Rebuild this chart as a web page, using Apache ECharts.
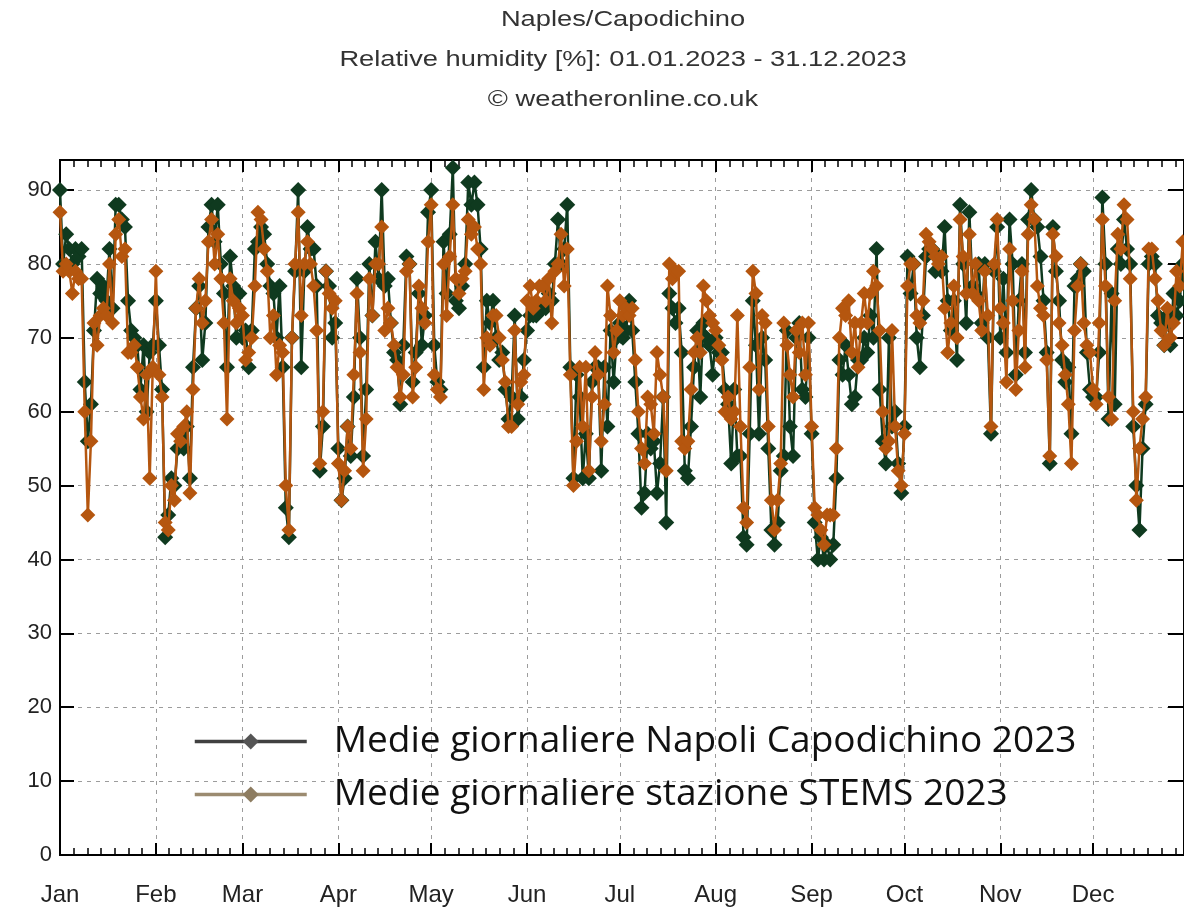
<!DOCTYPE html>
<html>
<head>
<meta charset="utf-8">
<title>Naples/Capodichino – Relative humidity 2023</title>
<script src="https://cdn.jsdelivr.net/npm/echarts@6/dist/echarts.min.js"></script>
<style>
  html, body { margin: 0; padding: 0; background: #ffffff; }
  #chart { width: 1184px; height: 911px; }
</style>
</head>
<body>
<div id="chart"></div>
<script>
// Month axis
const monthNames = ['Jan', 'Feb', 'Mar', 'Apr', 'May', 'Jun', 'Jul', 'Aug', 'Sep', 'Oct', 'Nov', 'Dec'];
const monthLengths = [31, 28, 31, 30, 31, 30, 31, 31, 30, 31, 30, 31];
const yTicks = [0, 10, 20, 30, 40, 50, 60, 70, 80, 90];

// Daily mean relative humidity [%], Napoli Capodichino 2023 (one value per day, Jan 1 first)
const napoli = [
  // Jan
  90, 80, 84, 82, 80, 82, 81, 82, 64, 56, 61, 71, 78, 76, 77, 75, 82, 74, 88, 88, 86, 85, 75, 71, 70, 69, 63, 69, 60, 68, 69,
  // Feb
  75, 69, 63, 43, 46, 51, 50, 55, 57, 55, 58, 51, 66, 74, 77, 67, 72, 85, 88, 83, 88, 80, 76, 66, 81, 77, 70, 76,
  // Mar
  70, 71, 66, 71, 82, 83, 85, 84, 80, 77, 76, 70, 77, 66, 47, 43, 70, 79, 90, 66, 79, 85, 82, 82, 77, 52, 58, 79, 77, 70, 72,
  // Apr
  55, 48, 51, 58, 54, 62, 78, 70, 54, 63, 80, 73, 83, 78, 90, 77, 78, 72, 68, 67, 61, 69, 81, 80, 64, 68, 76, 69, 73, 87,
  // May
  90, 69, 64, 63, 83, 76, 84, 93, 75, 74, 77, 80, 91, 88, 91, 88, 82, 66, 75, 72, 75, 70, 67, 68, 63, 59, 62, 73, 59, 62, 67,
  // Jun
  71, 73, 73, 73, 74, 74, 74, 76, 75, 80, 86, 80, 82, 88, 66, 51, 65, 62, 51, 57, 51, 64, 66, 66, 52, 66, 58, 71, 64, 70,
  // Jul
  72, 70, 71, 75, 71, 64, 57, 47, 49, 57, 55, 56, 49, 53, 62, 45, 76, 74, 72, 74, 68, 52, 51, 58, 66, 71, 62, 72, 70, 69, 65,
  // Aug
  70, 68, 68, 63, 61, 53, 63, 54, 54, 43, 42, 57, 75, 69, 57, 70, 67, 55, 44, 42, 45, 52, 54, 71, 58, 54, 70, 72, 63, 62, 70,
  // Sep
  57, 45, 40, 43, 40, 42, 40, 42, 51, 67, 65, 69, 65, 61, 62, 67, 67, 70, 68, 73, 70, 82, 63, 56, 53, 70, 58, 60, 53, 49,
  // Oct
  58, 81, 76, 80, 70, 66, 73, 81, 82, 82, 79, 81, 79, 85, 75, 71, 75, 67, 88, 80, 72, 87, 77, 76, 80, 72, 80, 70, 57, 79, 85,
  // Nov
  70, 78, 68, 86, 80, 65, 75, 80, 68, 86, 90, 86, 85, 81, 75, 68, 53, 85, 79, 75, 67, 64, 66, 57, 77, 78, 80, 79, 68, 63,
  // Dec
  62, 62, 68, 89, 80, 59, 76, 61, 82, 80, 86, 82, 80, 58, 50, 44, 55, 61, 80, 81, 80, 73, 72, 69, 73, 69, 76, 73, 75, 80, 72
];

// Daily mean relative humidity [%], STEMS station 2023
const stems = [
  // Jan
  87, 79, 80, 79, 76, 79, 78, 78, 60, 46, 56, 72, 69, 73, 74, 73, 80, 72, 84, 86, 81, 82, 68, 68, 69, 66, 62, 59, 65, 51, 66,
  // Feb
  79, 65, 62, 45, 44, 50, 48, 57, 56, 58, 60, 49, 63, 74, 78, 72, 75, 83, 86, 80, 84, 78, 72, 59, 78, 75, 72, 74,
  // Mar
  73, 67, 68, 70, 77, 87, 86, 82, 79, 70, 73, 65, 69, 68, 50, 44, 70, 80, 87, 73, 80, 83, 80, 77, 71, 53, 60, 79, 76, 74, 75,
  // Apr
  53, 48, 52, 58, 55, 65, 76, 68, 52, 59, 78, 73, 80, 80, 85, 71, 74, 72, 69, 66, 62, 65, 79, 80, 62, 66, 77, 74, 72, 83,
  // May
  88, 65, 63, 62, 80, 73, 81, 88, 78, 76, 78, 79, 86, 84, 85, 82, 80, 63, 70, 69, 73, 73, 70, 67, 64, 58, 58, 71, 61, 64, 65,
  // Jun
  75, 77, 74, 75, 77, 77, 75, 78, 72, 79, 80, 84, 77, 82, 65, 50, 56, 66, 58, 66, 52, 62, 68, 65, 56, 61, 77, 73, 68, 71,
  // Jul
  75, 73, 74, 73, 74, 67, 60, 55, 53, 62, 61, 57, 68, 65, 62, 52, 80, 78, 79, 79, 56, 55, 56, 63, 68, 70, 68, 77, 75, 73, 72,
  // Aug
  71, 69, 67, 60, 62, 59, 60, 73, 58, 47, 45, 66, 79, 76, 63, 73, 72, 58, 48, 44, 48, 53, 72, 69, 65, 62, 71, 68, 72, 65, 72,
  // Sep
  58, 47, 46, 44, 42, 46, 46, 46, 55, 70, 74, 73, 75, 68, 72, 66, 72, 76, 72, 76, 79, 77, 71, 60, 55, 56, 71, 58, 52, 50,
  // Oct
  57, 77, 80, 80, 73, 72, 75, 84, 83, 82, 81, 80, 81, 74, 68, 72, 77, 70, 86, 81, 76, 84, 76, 80, 75, 71, 79, 73, 58, 80, 86,
  // Nov
  74, 72, 64, 82, 75, 63, 71, 79, 66, 84, 88, 86, 77, 74, 73, 67, 54, 84, 81, 72, 69, 65, 61, 53, 71, 77, 80, 72, 69, 68,
  // Dec
  63, 61, 72, 86, 77, 62, 59, 75, 84, 82, 88, 86, 78, 60, 48, 55, 59, 62, 82, 82, 78, 75, 71, 69, 74, 70, 72, 79, 77, 83, 75
];

const seriesNames = ['Medie giornaliere Napoli Capodichino 2023', 'Medie giornaliere stazione STEMS 2023'];
const titleLines = ['Naples/Capodichino', 'Relative humidity [%]: 01.01.2023 - 31.12.2023', '\u00A9 weatheronline.co.uk'];

// Day-of-year positions of month starts, plus six evenly spread minor ticks inside each month
const monthStarts = [];
let acc = 0;
monthLengths.forEach(len => { monthStarts.push(acc); acc += len; });
const minorTicks = [];
monthLengths.forEach((len, i) => {
  for (let k = 1; k < 7; k++) minorTicks.push(monthStarts[i] + len * k / 7);
});

const X_MAX = 363.4;   // visible part of the year
const Y_MAX = 94.06;

const FONT = '"Liberation Sans", Arial, sans-serif';
const GREEN = '#0f3a1f';
const BROWN = '#b5560f';
const gridDash = { color: '#9c9c9c', width: 1, type: [4, 5] };

function xAxisBase(position, tickValues, tickLen, withLabels, withSplit) {
  return {
    type: 'value', position: position, min: 0, max: X_MAX, offset: 0,
    axisLine: { show: true, onZero: false, lineStyle: { color: '#000', width: 2 } },
    axisTick: { show: true, inside: true, length: tickLen, customValues: tickValues,
                lineStyle: { color: '#000', width: tickLen > 8 ? 2 : 1.5 } },
    axisLabel: withLabels ? {
      show: true, customValues: monthStarts, margin: 28, fontSize: 24, fontFamily: FONT, color: '#222',
      formatter: v => monthNames[monthStarts.indexOf(Math.round(v))] || ''
    } : { show: false },
    splitLine: withSplit ? { show: true, lineStyle: gridDash } : { show: false }
  };
}

const chart = echarts.init(document.getElementById('chart'), null, { renderer: 'canvas' });

chart.setOption({
  animation: false,
  backgroundColor: '#ffffff',
  grid: { left: 60, right: 0, top: 160, bottom: 56, containLabel: false, outerBoundsMode: 'none' },
  graphic: titleLines.map((t, i) => ({
    type: 'text', x: 623, y: 20 + i * 40, scaleX: 1.24, silent: true,
    style: { text: t, fontSize: 22, fontFamily: FONT, fill: '#333', align: 'center', verticalAlign: 'middle' }
  })),
  legend: {
    orient: 'vertical', left: 188, top: 718,
    itemWidth: 112, itemHeight: 20, itemGap: 16,
    textStyle: { fontFamily: '"Open Sans", "Noto Sans", sans-serif', fontSize: 37, color: '#111', padding: [0, 0, 0, 22] },
    data: [
      { name: seriesNames[0], itemStyle: { color: '#555555' }, lineStyle: { color: '#404040', width: 3.5 } },
      { name: seriesNames[1], itemStyle: { color: '#8d7c60' }, lineStyle: { color: '#9b8b70', width: 3.5 } }
    ]
  },
  xAxis: [
    xAxisBase('bottom', monthStarts, 12, true, true),
    xAxisBase('bottom', minorTicks, 7, false, false),
    xAxisBase('top', monthStarts, 12, false, false),
    xAxisBase('top', minorTicks, 7, false, false)
  ],
  yAxis: [
    {
      type: 'value', position: 'left', min: 0, max: Y_MAX,
      axisLine: { show: true, onZero: false, lineStyle: { color: '#000', width: 2 } },
      axisTick: { show: true, inside: true, length: 14, customValues: yTicks, lineStyle: { color: '#000', width: 2 } },
      axisLabel: { show: true, customValues: yTicks, margin: 8, fontSize: 22, fontFamily: FONT, color: '#222' },
      splitLine: { show: true, lineStyle: gridDash }
    },
    {
      type: 'value', position: 'right', min: 0, max: Y_MAX,
      axisLine: { show: true, onZero: false, lineStyle: { color: '#000', width: 2 } },
      axisTick: { show: true, inside: true, length: 16, customValues: yTicks, lineStyle: { color: '#000', width: 2 } },
      axisLabel: { show: false },
      splitLine: { show: false }
    }
  ],
  series: [
    {
      name: seriesNames[0], type: 'line', xAxisIndex: 0, yAxisIndex: 0,
      data: napoli.map((v, d) => [d, v]),
      symbol: 'diamond', symbolSize: 16, showSymbol: true, showAllSymbol: true,
      lineStyle: { color: GREEN, width: 2.5 }, itemStyle: { color: GREEN },
      clip: true, z: 3
    },
    {
      name: seriesNames[1], type: 'line', xAxisIndex: 0, yAxisIndex: 0,
      data: stems.map((v, d) => [d, v]),
      symbol: 'diamond', symbolSize: 15, showSymbol: true, showAllSymbol: true,
      lineStyle: { color: BROWN, width: 2.5 }, itemStyle: { color: BROWN },
      clip: true, z: 4
    }
  ]
});
</script>
</body>
</html>
